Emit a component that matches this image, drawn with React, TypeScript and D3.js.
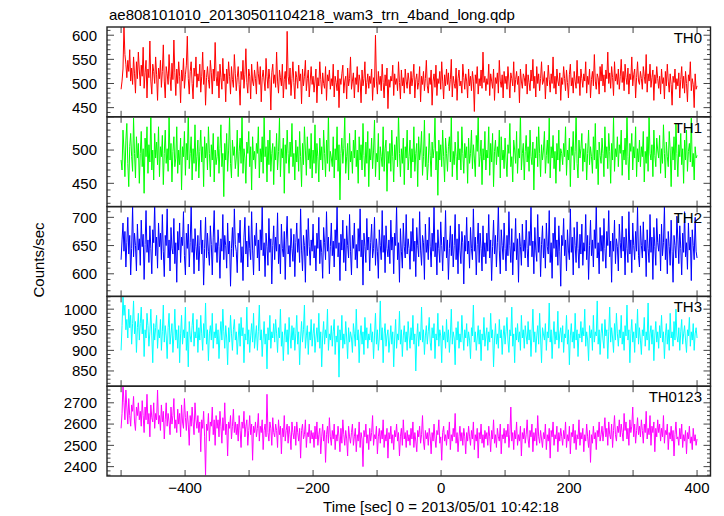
import React from 'react';
import * as d3 from 'd3';

const TITLE = 'ae808101010_20130501104218_wam3_trn_4band_long.qdp';
const X_LABEL = 'Time [sec] 0 = 2013/05/01 10:42:18';
const Y_LABEL = 'Counts/sec';
const T_START = -500;
const T_END = 400;
const X_TICKS = [-500, -400, -300, -200, -100, 0, 100, 200, 300, 400];
const X_LABELS = [-400, -200, 0, 200, 400];

const TH0 = [
  488, 505, 530, 617, 560, 540, 512, 548, 525, 570, 505, 532, 498, 555, 520, 480, 545, 510, 565, 528,
  495, 538, 515, 575, 490, 522, 548, 470, 530, 512, 588, 505, 478, 540, 525, 500, 555, 518, 465, 532,
  510, 548, 492, 525, 580, 505, 470, 535, 520, 498, 560, 515, 485, 542, 508, 590, 522, 475, 530, 500,
  545, 515, 460, 528, 505, 552, 490, 518, 538, 598, 510, 478, 525, 545, 500, 468, 532, 515, 555, 492,
  520, 505, 540, 482, 515, 565, 498, 528, 455, 512, 535, 508, 490, 548, 522, 478, 530, 505, 585, 515,
  495, 525, 470, 540, 512, 488, 552, 505, 520, 462, 530, 500, 545, 515, 478, 535, 508, 492, 560, 520,
  485, 512, 535, 498, 455, 525, 508, 548, 490, 518, 572, 502, 480, 530, 515, 468, 540, 505, 495, 528,
  510, 478, 545, 520, 498, 535, 462, 512, 528, 505, 485, 552, 515, 490, 530, 508, 445, 522, 540, 500,
  518, 492, 565, 505, 480, 528, 512, 495, 540, 470, 508, 525, 488, 608, 515, 498, 532, 475, 510, 545,
  502, 468, 525, 512, 490, 538, 505, 520, 458, 530, 495, 515, 548, 485, 510, 528, 472, 505, 535, 498,
  515, 482, 505, 530, 460, 512, 495, 545, 508, 478, 522, 500, 490, 535, 465, 518, 505, 528, 488, 510,
  495, 540, 472, 515, 502, 485, 528, 450, 510, 498, 520, 538, 480, 505, 515, 468, 532, 495, 510, 555,
  488, 505, 522, 470, 512, 498, 535, 482, 518, 505, 460, 528, 495, 510, 545, 478, 502, 520, 490, 515,
  500, 530, 465, 512, 492, 600, 505, 478, 525, 498, 515, 485, 540, 502, 470, 518, 495, 532, 448, 508,
  492, 515, 505, 538, 475, 520, 498, 510, 485, 545, 502, 468, 528, 495, 512, 480, 530, 505, 490, 522,
  505, 478, 525, 495, 512, 540, 470, 508, 520, 488, 502, 535, 462, 515, 498, 525, 485, 510, 548, 495,
  480, 512, 498, 528, 455, 505, 520, 492, 538, 475, 510, 500, 525, 488, 545, 505, 468, 518, 495, 530,
  498, 522, 485, 508, 550, 472, 515, 500, 490, 532, 465, 510, 528, 495, 505, 480, 540, 512, 488, 520,
  505, 470, 530, 495, 515, 485, 525, 505, 442, 518, 500, 535, 478, 510, 495, 528, 490, 565, 502, 515,
  485, 510, 498, 540, 475, 520, 505, 490, 530, 465, 512, 500, 522, 480, 548, 505, 492, 518, 470, 525,
  500, 515, 488, 535, 505, 470, 522, 510, 495, 545, 482, 508, 525, 498, 515, 460, 530, 505, 490, 520,
  512, 495, 540, 478, 518, 502, 485, 528, 505, 550, 490, 515, 472, 535, 500, 520, 485, 510, 545, 498,
  505, 525, 468, 512, 495, 538, 508, 482, 520, 500, 555, 490, 515, 478, 530, 505, 495, 522, 465, 512,
  498, 535, 510, 485, 528, 502, 470, 518, 540, 495, 512, 480, 525, 505, 490, 548, 500, 515, 475, 530,
  510, 492, 520, 505, 545, 480, 515, 498, 530, 470, 508, 525, 495, 560, 505, 488, 520, 512, 478, 535,
  505, 540, 495, 518, 482, 528, 510, 565, 500, 522, 490, 535, 512, 475, 545, 505, 520, 498, 530, 488,
  515, 550, 502, 525, 485, 540, 512, 498, 532, 478, 520, 508, 555, 495, 518, 530, 470, 512, 545, 505,
  498, 525, 510, 488, 535, 515, 500, 560, 482, 520, 505, 540, 492, 512, 528, 465, 518, 500, 535, 510,
  490, 515, 478, 530, 500, 512, 468, 525, 495, 540, 505, 482, 520, 498, 455, 515, 502, 530, 488, 510,
  495, 522, 470, 508, 535, 490, 515, 480, 525, 500, 462, 518, 505, 545, 485, 510, 498, 450, 520, 488,
  495,
];

const TH1 = [
  485, 470, 530, 500, 460, 515, 540, 480, 445, 505, 525, 490, 468, 548, 495, 458, 520, 488, 510, 450,
  495, 528, 475, 502, 435, 518, 490, 535, 465, 508, 482, 555, 470, 500, 455, 525, 488, 512, 478, 535,
  460, 505, 490, 522, 448, 495, 530, 480, 502, 468, 552, 485, 510, 452, 498, 520, 475, 488, 535, 465,
  500, 478, 518, 440, 505, 490, 528, 462, 510, 485, 558, 472, 495, 520, 455, 502, 480, 538, 468, 490,
  515, 458, 498, 530, 482, 505, 445, 520, 488, 510, 470, 535, 495, 460, 508, 485, 525, 452, 500, 478,
  490, 520, 465, 502, 538, 475, 495, 430, 510, 485, 525, 468, 500, 552, 480, 458, 515, 492, 505, 472,
  488, 530, 460, 498, 518, 480, 556, 465, 502, 488, 450, 512, 495, 528, 475, 505, 440, 520, 485, 498,
  472, 510, 495, 535, 458, 502, 482, 520, 465, 550, 490, 505, 452, 515, 478, 530, 468, 495, 510, 448,
  505, 485, 525, 470, 498, 548, 460, 502, 488, 518, 435, 508, 480, 530, 495, 465, 512, 490, 540, 475,
  495, 455, 515, 482, 505, 468, 528, 490, 445, 510, 478, 535, 500, 462, 520, 485, 502, 472, 525, 458,
  500, 480, 538, 465, 510, 490, 452, 518, 485, 505, 470, 530, 495, 460, 515, 480, 555, 468, 498, 488,
  475, 520, 458, 502, 485, 535, 468, 508, 425, 495, 518, 480, 502, 550, 465, 490, 510, 455, 525, 482,
  498, 465, 515, 488, 530, 475, 500, 450, 520, 485, 508, 470, 540, 492, 460, 512, 480, 528, 445, 502,
  485, 518, 472, 500, 545, 460, 495, 482, 525, 455, 505, 490, 475, 535, 468, 502, 515, 438, 498, 480,
  510, 468, 530, 490, 452, 508, 485, 520, 475, 555, 495, 460, 502, 480, 518, 448, 505, 488, 530, 470,
  490, 515, 458, 502, 482, 535, 468, 495, 510, 445, 520, 485, 500, 528, 462, 490, 545, 475, 505, 455,
  480, 525, 492, 460, 512, 488, 502, 548, 470, 498, 432, 515, 485, 508, 475, 530, 490, 452, 518, 495,
  468, 505, 520, 482, 552, 460, 498, 478, 512, 490, 455, 528, 485, 502, 470, 535, 495, 465, 510, 488,
  505, 450, 518, 480, 495, 530, 472, 508, 488, 460, 522, 498, 550, 475, 490, 515, 448, 502, 485, 528,
  470, 500, 488, 535, 462, 510, 482, 525, 445, 498, 515, 478, 505, 490, 530, 458, 520, 485, 500, 472,
  518, 485, 460, 508, 495, 540, 475, 490, 452, 515, 500, 480, 528, 465, 502, 488, 556, 470, 495, 510,
  455, 498, 522, 482, 505, 468, 530, 490, 478, 512, 440, 502, 488, 520, 475, 535, 495, 460, 508, 485,
  500, 528, 465, 492, 515, 480, 548, 458, 505, 488, 522, 472, 498, 450, 510, 485, 530, 468, 502, 495,
  478, 510, 490, 535, 462, 500, 485, 518, 445, 505, 492, 528, 470, 498, 552, 480, 458, 515, 488, 502,
  525, 468, 502, 482, 510, 455, 495, 530, 478, 505, 490, 465, 520, 485, 540, 472, 500, 448, 512, 492,
  480, 518, 495, 460, 535, 488, 505, 472, 525, 498, 450, 510, 485, 550, 468, 502, 490, 520, 475, 508,
  495, 530, 462, 500, 485, 518, 478, 556, 490, 455, 510, 498, 525, 470, 505, 488, 535, 460, 502, 482,
  515, 475, 505, 490, 528, 452, 498, 480, 520, 468, 552, 495, 485, 508, 460, 530, 492, 475, 518, 500,
  488, 522, 465, 502, 480, 538, 495, 458, 512, 490, 475, 528, 500, 445, 505, 485, 520, 470, 540, 495,
  460, 508, 490, 525, 478, 502, 450, 515, 485, 530, 468, 498, 510, 482, 548, 475, 495, 455, 505, 488,
  492,
];

const TH2 = [
  625, 660, 690, 640, 675, 612, 655, 700, 635, 668, 598, 645, 720, 630, 672, 650, 605, 688, 642, 662,
  615, 695, 648, 670, 590, 652, 712, 638, 660, 620, 685, 645, 600, 678, 655, 725, 632, 665, 610, 690,
  648, 672, 625, 705, 640, 595, 668, 650, 715, 628, 660, 605, 682, 645, 635, 698, 618, 655, 585, 675,
  642, 690, 620, 665, 650, 710, 632, 598, 672, 645, 688, 612, 655, 720, 638, 662, 600, 680, 648, 625,
  668, 605, 650, 695, 635, 660, 580, 645, 700, 628, 672, 640, 615, 685, 652, 598, 665, 712, 638, 655,
  620, 678, 648, 592, 662, 640, 705, 625, 668, 650, 610, 690, 635, 658, 578, 645, 682, 630, 715, 652,
  640, 602, 672, 655, 695, 620, 648, 588, 665, 700, 635, 658, 612, 685, 645, 625, 710, 642, 598, 668,
  650, 690, 628, 660, 605, 678, 642, 720, 632, 655, 595, 672, 648, 615, 698, 638, 662, 582, 650, 685,
  625, 665, 640, 708, 618, 652, 600, 688, 645, 630, 675, 590, 660, 702, 635, 650, 612, 680, 645, 622,
  670, 595, 655, 690, 638, 662, 620, 715, 642, 605, 668, 650, 585, 678, 632, 698, 648, 615, 660, 640,
  688, 628, 650, 605, 672, 645, 700, 618, 660, 638, 592, 682, 655, 625, 710, 640, 665, 600, 648, 690,
  632, 658, 612, 678, 645, 720, 630, 655, 588, 670, 642, 695, 620, 662, 605, 685, 650, 628, 705, 640,
  598, 668, 645, 690, 625, 652, 610, 680, 640, 715, 630, 660, 580, 672, 648, 620, 698, 642, 665, 605,
  655, 688, 628, 645, 700, 615, 662, 640, 592, 678, 650, 625, 712, 638, 668, 602, 685, 645, 630, 660,
  618, 695, 642, 665, 600, 672, 650, 720, 625, 655, 585, 680, 640, 610, 690, 648, 628, 705, 635, 662,
  645, 608, 675, 640, 698, 622, 658, 595, 682, 650, 630, 710, 642, 615, 668, 655, 590, 688, 638, 660,
  625, 700, 648, 612, 672, 640, 718, 630, 655, 598, 678, 645, 620, 692, 650, 605, 665, 640, 712, 628,
  660, 590, 645, 685, 632, 670, 612, 650, 705, 625, 662, 600, 688, 642, 618, 675, 655, 582, 668, 640,
  700, 635, 658, 610, 682, 645, 625, 715, 640, 665, 598, 652, 690, 620, 672, 645, 605, 685, 630, 655,
  618, 672, 640, 705, 628, 660, 588, 648, 695, 635, 668, 612, 655, 720, 642, 600, 678, 650, 625, 690,
  645, 605, 668, 632, 710, 650, 620, 680, 598, 655, 640, 698, 625, 662, 585, 672, 648, 615, 688, 640,
  660, 628, 695, 645, 612, 675, 650, 718, 630, 658, 600, 682, 642, 622, 705, 638, 665, 595, 652, 685,
  628, 662, 610, 690, 648, 635, 712, 620, 655, 592, 672, 645, 700, 630, 660, 615, 685, 640, 578, 668,
  650, 698, 632, 660, 605, 678, 642, 625, 715, 638, 665, 598, 682, 650, 620, 692, 645, 610, 670, 635,
  688, 615, 655, 640, 705, 625, 668, 590, 650, 695, 632, 660, 612, 678, 645, 720, 628, 655, 600, 682,
  640, 668, 622, 698, 645, 610, 675, 650, 712, 630, 658, 585, 672, 640, 695, 618, 662, 648, 605, 688,
  655, 628, 702, 640, 665, 598, 680, 645, 620, 710, 635, 660, 602, 690, 650, 625, 675, 640, 718, 632,
  612, 685, 650, 628, 692, 640, 660, 595, 678, 645, 620, 705, 638, 665, 590, 682, 648, 615, 698, 655,
  640, 670, 605, 688, 632, 655, 720, 625, 662, 600, 675, 648, 615, 695, 640, 585, 668, 650, 628, 702,
  660, 618, 685, 645, 598, 672, 638, 710, 630, 655, 608, 690, 642, 665, 588, 678, 650, 625, 700, 640,
  628,
];

const TH3 = [
  900, 960, 1030, 985, 1010, 950, 975, 930, 1000, 955, 985, 915, 965, 1020, 940, 970, 895, 955, 990, 925,
  965, 1005, 940, 975, 885, 950, 930, 990, 960, 910, 945, 1000, 935, 870, 965, 925, 955, 985, 905, 950,
  930, 975, 900, 945, 1010, 920, 960, 935, 880, 955, 990, 915, 940, 965, 895, 935, 1000, 925, 950, 905,
  960, 870, 940, 985, 915, 950, 930, 1005, 900, 945, 860, 970, 935, 920, 960, 990, 910, 945, 930, 975,
  895, 955, 925, 985, 940, 900, 965, 930, 1015, 915, 950, 875, 940, 960, 925, 990, 905, 945, 930, 965,
  915, 950, 880, 935, 970, 925, 1000, 945, 905, 960, 930, 865, 955, 920, 985, 940, 900, 950, 975, 925,
  945, 890, 930, 965, 910, 980, 935, 955, 870, 940, 925, 1005, 915, 950, 895, 935, 965, 920, 990, 905,
  935, 960, 900, 945, 1010, 925, 950, 885, 930, 970, 915, 940, 855, 955, 925, 985, 905, 945, 930, 965,
  920, 975, 940, 895, 955, 930, 1000, 910, 945, 875, 935, 965, 920, 950, 890, 980, 935, 905, 960, 925,
  955, 900, 940, 985, 915, 945, 865, 930, 970, 920, 950, 1010, 905, 935, 960, 890, 945, 925, 975, 910,
  940, 965, 895, 930, 955, 920, 990, 905, 945, 860, 935, 970, 915, 950, 930, 1000, 900, 940, 925, 960,
  910, 945, 975, 890, 935, 920, 960, 835, 950, 925, 985, 905, 940, 915, 970, 930, 880, 955, 920, 945,
  930, 895, 965, 940, 910, 1000, 925, 950, 870, 935, 960, 915, 945, 890, 980, 925, 955, 905, 940, 925,
  965, 920, 945, 880, 935, 990, 915, 950, 900, 930, 1020, 925, 955, 870, 940, 965, 910, 935, 950, 895,
  925, 960, 915, 945, 860, 930, 975, 905, 940, 925, 995, 915, 950, 885, 935, 960, 920, 945, 900, 970,
  935, 905, 955, 925, 985, 915, 940, 850, 930, 965, 910, 945, 925, 1005, 920, 950, 890, 935, 960, 915,
  945, 980, 920, 900, 955, 930, 965, 880, 940, 925, 990, 910, 950, 935, 870, 960, 925, 945, 905, 975,
  920, 950, 895, 935, 1000, 915, 945, 930, 865, 955, 925, 970, 905, 940, 920, 985, 935, 900, 950, 930,
  965, 910, 945, 925, 880, 955, 935, 1010, 920, 945, 900, 930, 960, 915, 950, 875, 940, 925, 980, 910,
  935, 955, 900, 945, 920, 990, 930, 950, 860, 925, 965, 915, 940, 905, 975, 930, 950, 890, 935, 960,
  915, 945, 980, 925, 895, 950, 935, 1005, 910, 940, 870, 955, 925, 965, 920, 945, 900, 985, 930, 950,
  905, 960, 935, 915, 970, 925, 950, 885, 940, 1000, 920, 945, 895, 935, 960, 915, 990, 930, 870, 955,
  940, 925, 965, 900, 945, 930, 1015, 920, 950, 880, 935, 970, 915, 945, 925, 995, 905, 940, 955, 920,
  960, 895, 940, 930, 985, 915, 950, 865, 935, 965, 920, 945, 905, 990, 925, 950, 885, 940, 930, 970,
  920, 955, 935, 1000, 910, 945, 925, 875, 960, 930, 950, 900, 985, 920, 945, 935, 1020, 915, 950, 890,
  940, 965, 925, 905, 975, 935, 950, 880, 945, 1005, 920, 955, 930, 895, 965, 925, 990, 940, 910, 950,
  930, 985, 915, 945, 900, 960, 935, 1010, 925, 950, 870, 940, 975, 920, 945, 895, 965, 930, 1000, 915,
  955, 925, 890, 950, 935, 980, 910, 945, 925, 1015, 900, 940, 960, 915, 950, 875, 935, 970, 920, 945,
  905, 960, 930, 985, 920, 945, 880, 935, 965, 915, 950, 900, 990, 930, 945, 910, 970, 925, 1000, 935,
  920, 955, 900, 945, 975, 915, 940, 960, 925, 895, 950, 935, 980, 910, 945, 925, 965, 900, 940, 955,
  930,
];

const TH0123 = [
  2580, 2650, 2790, 2700, 2620, 2760, 2680, 2600, 2720, 2640, 2590, 2690, 2660, 2730, 2610, 2570, 2680, 2640, 2700, 2620,
  2660, 2590, 2710, 2640, 2560, 2680, 2620, 2740, 2600, 2650, 2540, 2690, 2630, 2610, 2700, 2580, 2650, 2620, 2760, 2600,
  2640, 2570, 2690, 2610, 2660, 2530, 2620, 2700, 2590, 2650, 2610, 2550, 2680, 2600, 2640, 2720, 2580, 2620, 2560, 2670,
  2600, 2650, 2540, 2690, 2610, 2580, 2720, 2630, 2570, 2660, 2600, 2500, 2640, 2590, 2680, 2610, 2550, 2700, 2620, 2580,
  2640, 2560, 2610, 2470, 2620, 2580, 2660, 2540, 2360, 2600, 2570, 2650, 2520, 2610, 2590, 2680, 2550, 2620, 2500, 2640,
  2580, 2620, 2540, 2660, 2590, 2510, 2630, 2570, 2700, 2550, 2600, 2450, 2610, 2580, 2640, 2530, 2590, 2670, 2560, 2610,
  2550, 2600, 2520, 2640, 2570, 2490, 2610, 2580, 2660, 2540, 2590, 2620, 2500, 2570, 2640, 2550, 2600, 2430, 2590, 2560,
  2610, 2540, 2580, 2650, 2520, 2590, 2560, 2620, 2480, 2570, 2600, 2540, 2740, 2560, 2520, 2610, 2580, 2500, 2630, 2560,
  2540, 2600, 2570, 2490, 2620, 2550, 2590, 2460, 2580, 2540, 2640, 2520, 2570, 2600, 2510, 2590, 2550, 2480, 2610, 2560,
  2530, 2590, 2500, 2610, 2560, 2520, 2580, 2440, 2570, 2600, 2530, 2550, 2620, 2490, 2560, 2540, 2600, 2510, 2570, 2530,
  2560, 2490, 2590, 2530, 2610, 2500, 2550, 2580, 2460, 2540, 2600, 2520, 2570, 2420, 2550, 2590, 2510, 2630, 2540, 2500,
  2570, 2530, 2600, 2480, 2550, 2520, 2590, 2540, 2470, 2580, 2510, 2620, 2550, 2500, 2570, 2530, 2450, 2590, 2540, 2510,
  2560, 2600, 2500, 2540, 2580, 2470, 2550, 2520, 2610, 2490, 2560, 2530, 2400, 2570, 2540, 2600, 2510, 2550, 2480, 2580,
  2520, 2560, 2640, 2500, 2550, 2530, 2590, 2460, 2540, 2580, 2510, 2570, 2530, 2620, 2490, 2550, 2520, 2580, 2440, 2560,
  2530, 2590, 2510, 2550, 2480, 2570, 2540, 2600, 2520, 2560, 2450, 2540, 2580, 2500, 2620, 2530, 2560, 2490, 2570, 2520,
  2550, 2500, 2580, 2530, 2610, 2490, 2560, 2520, 2470, 2570, 2540, 2590, 2510, 2550, 2640, 2520, 2480, 2570, 2530, 2560,
  2500, 2580, 2540, 2460, 2560, 2520, 2600, 2530, 2490, 2570, 2550, 2620, 2510, 2540, 2430, 2560, 2590, 2520, 2550, 2500,
  2570, 2530, 2610, 2480, 2550, 2520, 2580, 2540, 2650, 2510, 2560, 2470, 2540, 2590, 2520, 2560, 2500, 2580, 2540, 2460,
  2560, 2520, 2590, 2540, 2500, 2570, 2530, 2610, 2480, 2550, 2520, 2580, 2440, 2560, 2530, 2600, 2510, 2550, 2490, 2570,
  2530, 2560, 2500, 2590, 2540, 2470, 2570, 2530, 2620, 2510, 2550, 2490, 2580, 2540, 2520, 2600, 2460, 2550, 2530, 2580,
  2510, 2570, 2540, 2600, 2490, 2550, 2680, 2520, 2560, 2480, 2570, 2530, 2610, 2500, 2550, 2520, 2590, 2450, 2560, 2530,
  2580, 2510, 2550, 2620, 2530, 2490, 2570, 2540, 2600, 2470, 2560, 2520, 2580, 2500, 2640, 2540, 2510, 2570, 2530, 2490,
  2560, 2530, 2600, 2480, 2550, 2520, 2580, 2440, 2570, 2540, 2610, 2500, 2550, 2530, 2590, 2470, 2560, 2520, 2580, 2540,
  2500, 2570, 2530, 2610, 2490, 2550, 2520, 2590, 2460, 2560, 2540, 2600, 2510, 2570, 2480, 2550, 2530, 2620, 2500, 2560,
  2530, 2580, 2470, 2550, 2520, 2600, 2540, 2490, 2570, 2420, 2550, 2510, 2590, 2530, 2560, 2480, 2570, 2540, 2610, 2520,
  2550, 2590, 2520, 2570, 2630, 2540, 2580, 2500, 2610, 2550, 2530, 2600, 2490, 2570, 2640, 2550, 2520, 2590, 2560, 2620,
  2540, 2600, 2560, 2520, 2650, 2570, 2610, 2530, 2580, 2500, 2620, 2560, 2590, 2680, 2540, 2600, 2510, 2570, 2630, 2550,
  2590, 2540, 2620, 2570, 2510, 2600, 2560, 2660, 2530, 2580, 2550, 2640, 2500, 2590, 2560, 2610, 2470, 2580, 2540, 2620,
  2560, 2600, 2520, 2580, 2540, 2640, 2510, 2570, 2550, 2600, 2480, 2560, 2530, 2590, 2520, 2570, 2450, 2550, 2610, 2530,
  2540, 2500, 2580, 2530, 2600, 2490, 2550, 2520, 2570, 2460, 2560, 2530, 2590, 2510, 2540, 2480, 2580, 2520, 2550, 2500,
  2530,
];

const SERIES_NAMES = ['TH0', 'TH1', 'TH2', 'TH3', 'TH0123'];
const SERIES_VALUES = [TH0, TH1, TH2, TH3, TH0123];
const Y_DOMAINS = [
  [431, 617],
  [415, 550],
  [560, 719],
  [813, 1031],
  [2356, 2778],
];
const Y_MAJOR = [50, 50, 50, 50, 100];
const Y_MINOR = [10, 10, 10, 10, 20];
const COLORS = ['#ff0000', '#00ff00', '#0000ff', '#00ffff', '#ff00ff'];

const W = 724;
const H = 516;
const LEFT = 107;
const RIGHT = 710.5;
const TOP = 27;
const BOTTOM = 476;
const FONT = '"Liberation Sans", Arial, Helvetica, sans-serif';

export default function App() {
  const n = SERIES_NAMES.length;
  const ph = (BOTTOM - TOP) / n;
  const x = d3.scaleLinear().domain([-522, 421]).range([LEFT, RIGHT]);
  const fmt = d3.format('');

  return (
    <svg
      width={W}
      height={H}
      style={{ position: 'absolute', left: 0, top: 0, background: '#fff' }}
      fontFamily={FONT}
    >
      <rect x={0} y={0} width={W} height={H} fill="#fff" />
      <defs>
        {SERIES_NAMES.map((name, k) => (
          <clipPath id={`clip${k}`} key={name}>
            <rect x={LEFT} y={TOP + k * ph} width={RIGHT - LEFT} height={ph} />
          </clipPath>
        ))}
      </defs>
      <text x={109} y={20} fontSize={15} fill="#000">
        {TITLE}
      </text>
      {SERIES_NAMES.map((name, k) => {
        const y0 = TOP + k * ph;
        const y1 = y0 + ph;
        const y = d3.scaleLinear().domain(Y_DOMAINS[k]).range([y1, y0]);
        const values = SERIES_VALUES[k];
        const t = d3.scaleLinear().domain([0, values.length - 1]).range([T_START, T_END]);
        const line = d3
          .line<number>()
          .x((_, i) => x(t(i)))
          .y((v) => y(v));
        const [lo, hi] = Y_DOMAINS[k];
        const majors = d3.range(Math.ceil(lo / Y_MAJOR[k]) * Y_MAJOR[k], hi + 0.001, Y_MAJOR[k]);
        const minors = d3
          .range(Math.ceil(lo / Y_MINOR[k]) * Y_MINOR[k], hi + 0.001, Y_MINOR[k])
          .filter((v) => v % Y_MAJOR[k] !== 0);
        const labelled = majors.filter((v) => y(v) > y0 + 4 && y(v) < y1 - 4);
        return (
          <g key={name}>
            <path
              d={line(values) || ''}
              fill="none"
              stroke={COLORS[k]}
              strokeWidth={1}
              clipPath={`url(#clip${k})`}
            />
            {majors.map((v) => (
              <g key={`M${v}`} stroke="#444" strokeWidth={1}>
                <line x1={LEFT} x2={LEFT + 7} y1={y(v)} y2={y(v)} />
                <line x1={RIGHT} x2={RIGHT - 7} y1={y(v)} y2={y(v)} />
              </g>
            ))}
            {minors.map((v) => (
              <g key={`m${v}`} stroke="#444" strokeWidth={1}>
                <line x1={LEFT} x2={LEFT + 3.5} y1={y(v)} y2={y(v)} />
                <line x1={RIGHT} x2={RIGHT - 3.5} y1={y(v)} y2={y(v)} />
              </g>
            ))}
            {X_TICKS.map((tk) => (
              <g key={`x${tk}`} stroke="#444" strokeWidth={1}>
                <line x1={x(tk)} x2={x(tk)} y1={y0} y2={y0 + 6} />
                <line x1={x(tk)} x2={x(tk)} y1={y1} y2={y1 - 6} />
              </g>
            ))}
            <rect
              x={LEFT}
              y={y0}
              width={RIGHT - LEFT}
              height={ph}
              fill="none"
              stroke="#222"
              strokeWidth={1.4}
            />
            {labelled.map((v) => (
              <text
                key={`l${v}`}
                x={97}
                y={y(v)}
                dy="0.36em"
                textAnchor="end"
                fontSize={15}
                fill="#000"
              >
                {fmt(v)}
              </text>
            ))}
            <text x={702} y={y0 + 16} textAnchor="end" fontSize={15} fill="#000">
              {name}
            </text>
          </g>
        );
      })}
      {X_LABELS.map((tk) => (
        <text
          key={`xl${tk}`}
          x={x(tk)}
          y={493}
          textAnchor="middle"
          fontSize={15}
          fill="#000"
        >
          {fmt(tk)}
        </text>
      ))}
      <text x={441} y={512} textAnchor="middle" fontSize={15} fill="#000">
        {X_LABEL}
      </text>
      <text
        transform={`translate(44, 260) rotate(-90)`}
        textAnchor="middle"
        fontSize={15}
        fill="#000"
      >
        {Y_LABEL}
      </text>
    </svg>
  );
}
